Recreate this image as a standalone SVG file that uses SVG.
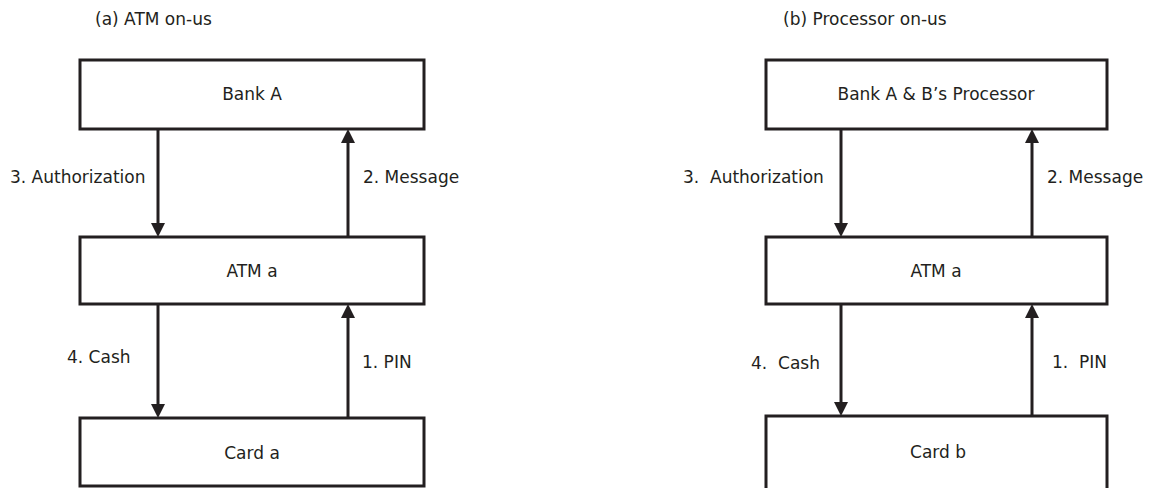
<svg xmlns="http://www.w3.org/2000/svg" width="1154" height="488" viewBox="0 0 1154 488">
<style>
  .box { fill: #ffffff; stroke: #231f20; stroke-width: 3; }
  .lbl { font-family: "DejaVu Sans", "Liberation Sans", sans-serif; font-size: 17px; fill: #231f20; }
  .mid { text-anchor: middle; }
  .edge { stroke: #231f20; stroke-width: 3; fill: none; marker-end: url(#arrow); }
</style>
<defs>
  <marker id="arrow" markerUnits="userSpaceOnUse" markerWidth="14" markerHeight="14" refX="2" refY="7" orient="auto" viewBox="0 0 14 14">
    <path d="M0,0 L14,7 L0,14 z" fill="#231f20"/>
  </marker>
</defs>
<rect width="1154" height="488" fill="#ffffff"/>

<text class="lbl" x="95" y="25">(a) ATM on-us</text>
<text class="lbl" x="783" y="25">(b) Processor on-us</text>

<g id="bankA">
  <rect class="box" x="80" y="60" width="344" height="69"/>
  <text class="lbl mid" x="252" y="100">Bank A</text>
</g>
<g id="atmA-left">
  <rect class="box" x="80" y="237" width="344" height="67"/>
  <text class="lbl mid" x="252" y="277">ATM a</text>
</g>
<g id="cardA">
  <rect class="box" x="80" y="418" width="344" height="68"/>
  <text class="lbl mid" x="252" y="459">Card a</text>
</g>

<g id="processor">
  <rect class="box" x="766" y="60" width="341" height="69"/>
  <text class="lbl mid" x="936" y="100">Bank A &amp; B’s Processor</text>
</g>
<g id="atmA-right">
  <rect class="box" x="766" y="237" width="341" height="67"/>
  <text class="lbl mid" x="936" y="277">ATM a</text>
</g>
<g id="cardB">
  <rect class="box" x="766" y="416" width="341" height="80"/>
  <text class="lbl mid" x="938" y="458">Card b</text>
</g>

<g id="connectors">
  <line class="edge" x1="158" y1="129" x2="158" y2="225"/>
  <line class="edge" x1="348" y1="237" x2="348" y2="141"/>
  <line class="edge" x1="158" y1="304" x2="158" y2="406"/>
  <line class="edge" x1="348" y1="418" x2="348" y2="316"/>

  <line class="edge" x1="841" y1="129" x2="841" y2="225"/>
  <line class="edge" x1="1032" y1="237" x2="1032" y2="141"/>
  <line class="edge" x1="841" y1="304" x2="841" y2="404"/>
  <line class="edge" x1="1032" y1="416" x2="1032" y2="316"/>

  <text class="lbl" x="10" y="183">3. Authorization</text>
  <text class="lbl" x="363" y="183">2. Message</text>
  <text class="lbl" x="67" y="363">4. Cash</text>
  <text class="lbl" x="362" y="368">1. PIN</text>

  <text class="lbl" x="683" y="183" xml:space="preserve">3.  Authorization</text>
  <text class="lbl" x="1047" y="183">2. Message</text>
  <text class="lbl" x="751" y="369" xml:space="preserve">4.  Cash</text>
  <text class="lbl" x="1052" y="368" xml:space="preserve">1.  PIN</text>
</g>
</svg>
